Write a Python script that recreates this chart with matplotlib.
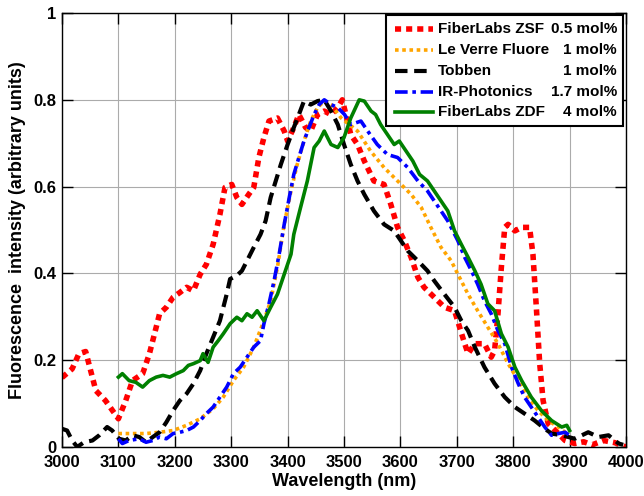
import matplotlib
matplotlib.use("Agg")
import matplotlib.pyplot as plt
from matplotlib.patches import Rectangle

plt.rcParams['font.family'] = ['Liberation Sans', 'DejaVu Sans']
plt.rcParams['font.weight'] = 'bold'

# ---- data ----
zsf_x = [3000, 3018, 3030, 3042, 3048, 3060, 3077, 3089, 3100, 3113, 3125, 3143, 3155, 3167, 3173, 3185,
         3197, 3209, 3221, 3233, 3245, 3256, 3268, 3280, 3289, 3301, 3310, 3319, 3331, 3340, 3349, 3358,
         3367, 3382, 3394, 3400, 3411, 3420, 3432, 3441, 3453, 3465, 3477, 3489, 3497, 3512, 3524, 3536,
         3553, 3571, 3583, 3595, 3607, 3619, 3631, 3642, 3660, 3678, 3696, 3705, 3714, 3720, 3732, 3749,
         3761, 3767, 3773, 3779, 3785, 3791, 3803, 3815, 3829, 3835, 3841, 3847, 3853, 3862, 3880, 3892,
         3909, 3925, 3940, 3960, 3980, 4000]
zsf_y = [0.16, 0.18, 0.215, 0.22, 0.19, 0.13, 0.107, 0.085, 0.065, 0.107, 0.153, 0.169, 0.215, 0.276, 0.307, 0.322,
         0.345, 0.356, 0.368, 0.36, 0.398, 0.421, 0.467, 0.536, 0.598, 0.605, 0.575, 0.559, 0.582, 0.598, 0.667, 0.713,
         0.751, 0.758, 0.728, 0.705, 0.736, 0.766, 0.736, 0.728, 0.766, 0.774, 0.766, 0.782, 0.80, 0.72, 0.697, 0.659,
         0.613, 0.605, 0.559, 0.506, 0.475, 0.437, 0.391, 0.368, 0.345, 0.322, 0.314, 0.276, 0.238, 0.215, 0.238, 0.238,
         0.207, 0.222, 0.307, 0.414, 0.506, 0.513, 0.498, 0.506, 0.506, 0.444, 0.322, 0.192, 0.107, 0.054, 0.031, 0.015,
         0.008, 0.012, 0.005, 0.015, 0.01, 0.0]

lvf_x = [3100, 3125, 3149, 3173, 3197, 3221, 3245, 3268, 3286, 3304, 3322, 3340, 3358, 3370, 3382, 3394,
         3406, 3417, 3429, 3441, 3453, 3465, 3477, 3495, 3524, 3547, 3571, 3595, 3619, 3637, 3654, 3672,
         3690, 3702, 3720, 3737, 3755, 3773, 3791, 3809, 3826, 3844, 3862, 3880, 3892]
lvf_y = [0.031, 0.031, 0.031, 0.034, 0.038, 0.05, 0.065, 0.088, 0.115, 0.153, 0.184, 0.23, 0.291, 0.337, 0.414, 0.513,
         0.59, 0.651, 0.705, 0.751, 0.782, 0.797, 0.789, 0.758, 0.728, 0.682, 0.644, 0.613, 0.582, 0.552, 0.506, 0.46,
         0.429, 0.398, 0.352, 0.314, 0.276, 0.238, 0.192, 0.153, 0.115, 0.084, 0.061, 0.046, 0.034]

tob_x = [3000, 3009, 3018, 3027, 3039, 3054, 3066, 3080, 3089, 3101, 3113, 3125, 3137, 3149, 3161, 3173,
         3185, 3197, 3209, 3221, 3233, 3245, 3256, 3268, 3280, 3292, 3298, 3310, 3319, 3328, 3340, 3352,
         3361, 3370, 3379, 3388, 3400, 3411, 3420, 3429, 3441, 3453, 3465, 3477, 3489, 3500, 3512, 3524,
         3536, 3553, 3571, 3589, 3601, 3613, 3631, 3648, 3660, 3678, 3696, 3708, 3720, 3732, 3749, 3767,
         3785, 3803, 3820, 3838, 3856, 3868, 3886, 3898, 3909, 3933, 3951, 3969, 3987, 3995]
tob_y = [0.042, 0.038, 0.015, 0.0, 0.011, 0.015, 0.027, 0.046, 0.038, 0.019, 0.015, 0.027, 0.023, 0.011, 0.023, 0.034,
         0.057, 0.084, 0.107, 0.123, 0.146, 0.176, 0.215, 0.253, 0.291, 0.352, 0.387, 0.395, 0.406, 0.429, 0.46, 0.49,
         0.521, 0.575, 0.613, 0.651, 0.697, 0.736, 0.766, 0.797, 0.789, 0.797, 0.80, 0.774, 0.743, 0.697, 0.651, 0.613,
         0.582, 0.544, 0.513, 0.498, 0.475, 0.452, 0.429, 0.406, 0.383, 0.352, 0.322, 0.291, 0.268, 0.23, 0.184, 0.146,
         0.115, 0.092, 0.077, 0.061, 0.042, 0.031, 0.027, 0.023, 0.019, 0.034, 0.023, 0.027, 0.008, 0.005]

irp_x = [3100, 3107, 3119, 3137, 3149, 3161, 3173, 3185, 3197, 3209, 3221, 3233, 3245, 3256, 3268, 3280,
         3292, 3304, 3316, 3328, 3340, 3352, 3358, 3367, 3376, 3385, 3394, 3403, 3411, 3420, 3429, 3438,
         3447, 3456, 3465, 3477, 3489, 3501, 3512, 3530, 3542, 3559, 3577, 3595, 3613, 3631, 3648, 3660,
         3672, 3684, 3702, 3714, 3726, 3737, 3749, 3761, 3773, 3785, 3797, 3809, 3820, 3832, 3844, 3856,
         3868, 3880, 3892, 3900]
irp_y = [0.019, 0.008, 0.015, 0.019, 0.011, 0.015, 0.023, 0.019, 0.031, 0.034, 0.038, 0.046, 0.061, 0.077, 0.092, 0.115,
         0.138, 0.169, 0.184, 0.207, 0.23, 0.245, 0.284, 0.33, 0.383, 0.444, 0.513, 0.575, 0.628, 0.667, 0.705, 0.736,
         0.766, 0.789, 0.80, 0.789, 0.782, 0.766, 0.743, 0.751, 0.728, 0.697, 0.674, 0.667, 0.644, 0.613, 0.59, 0.567,
         0.544, 0.521, 0.475, 0.437, 0.406, 0.375, 0.337, 0.307, 0.268, 0.238, 0.184, 0.146, 0.115, 0.092, 0.069, 0.046,
         0.027, 0.031, 0.034, 0.027]

zdf_x = [3100, 3107, 3119, 3131, 3143, 3155, 3167, 3179, 3191, 3203, 3215, 3224, 3233, 3245, 3250, 3259,
         3268, 3277, 3286, 3298, 3310, 3319, 3328, 3337, 3346, 3358, 3370, 3382, 3394, 3406, 3411, 3423,
         3435, 3447, 3456, 3465, 3477, 3489, 3500, 3512, 3527, 3536, 3548, 3556, 3565, 3577, 3589, 3598,
         3610, 3622, 3634, 3648, 3660, 3672, 3684, 3696, 3708, 3720, 3732, 3743, 3755, 3767, 3779, 3791,
         3803, 3815, 3832, 3850, 3868, 3886, 3895, 3900]
zdf_y = [0.161, 0.169, 0.153, 0.149, 0.138, 0.153, 0.161, 0.165, 0.161, 0.169, 0.176, 0.188, 0.192, 0.199, 0.215, 0.195,
         0.23, 0.245, 0.261, 0.284, 0.299, 0.291, 0.307, 0.299, 0.314, 0.291, 0.322, 0.352, 0.398, 0.444, 0.49, 0.552,
         0.613, 0.69, 0.705, 0.728, 0.697, 0.69, 0.713, 0.758, 0.80, 0.797, 0.774, 0.766, 0.743, 0.72, 0.697, 0.705,
         0.682, 0.659, 0.628, 0.613, 0.59, 0.567, 0.544, 0.498, 0.467, 0.437, 0.406, 0.375, 0.33, 0.314, 0.261, 0.23,
         0.184, 0.153, 0.115, 0.084, 0.061, 0.046, 0.05, 0.038]

names = ["FiberLabs ZSF", "Le Verre Fluore", "Tobben", "IR-Photonics", "FiberLabs ZDF"]
mols = ["0.5 mol%", "1 mol%", "1 mol%", "1.7 mol%", "4 mol%"]
x_ticks = [3000, 3100, 3200, 3300, 3400, 3500, 3600, 3700, 3800, 3900, 4000]
y_ticks = [0, 0.2, 0.4, 0.6, 0.8, 1]
y_ticklabels = ["0", "0.2", "0.4", "0.6", "0.8", "1"]

# ---- plot ----
fig = plt.figure(figsize=(6.44, 4.96), dpi=100)
AX_L, AX_R, AX_T, AX_B = 62, 626, 13, 447
ax = fig.add_axes([AX_L/644, 1-AX_B/496, (AX_R-AX_L)/644, (AX_B-AX_T)/496])

def fx(px):
    return (px - AX_L) / (AX_R - AX_L)

def fy(py):
    return (AX_B - py) / (AX_B - AX_T)

series = [(zsf_x, zsf_y), (lvf_x, lvf_y), (tob_x, tob_y), (irp_x, irp_y), (zdf_x, zdf_y)]
styles = [
    dict(color='#ff0000', lw=4.0, linestyle=(0, (1.1, 0.9)), dash_capstyle='butt'),
    dict(color='#ffa500', lw=2.6, linestyle=(0, (1.0, 1.0)), dash_capstyle='butt'),
    dict(color='#000000', lw=3.0, linestyle=(0, (3.0, 1.6)), dash_capstyle='butt'),
    dict(color='#0000ff', lw=2.6, linestyle=(0, (3.5, 1.3, 1.0, 1.3)), dash_capstyle='butt'),
    dict(color='#008000', lw=2.6, linestyle='-'),
]
for (xs, ys), st in zip(series, styles):
    ax.plot(xs, ys, **st)

ax.set_xlim(3000, 4000)
ax.set_ylim(0, 1)
ax.set_xticks(x_ticks)
ax.set_yticks(y_ticks)
ax.set_yticklabels(y_ticklabels)
ax.grid(True, color='#ababab', lw=0.8, linestyle='-')
ax.set_axisbelow(True)
ax.tick_params(direction='in', top=True, right=True, length=8, width=1, labelsize=12)
ax.tick_params(axis='x', pad=6)
ax.tick_params(axis='y', pad=4)
for lab in ax.get_xticklabels() + ax.get_yticklabels():
    lab.set_fontweight('bold')
for sp in ax.spines.values():
    sp.set_linewidth(1.0)
ax.set_xlabel("Wavelength (nm)", fontsize=13, fontweight='bold', labelpad=2)
ax.set_ylabel("Fluorescence  intensity (arbitrary units)", fontsize=13, fontweight='bold', labelpad=5)

# ---- manual legend (two-part labels with right-aligned mol%) ----
LEG_L, LEG_R, LEG_T, LEG_B = 386, 623, 15, 126
ax.add_patch(Rectangle((fx(LEG_L), fy(LEG_B)), fx(LEG_R) - fx(LEG_L), fy(LEG_T) - fy(LEG_B),
                       transform=ax.transAxes, facecolor='white', edgecolor='black', lw=1.5,
                       clip_on=False, zorder=5))
row_y = [29, 50, 71, 91.5, 111.5]
for st, nm, ml, ry in zip(styles, names, mols, row_y):
    ax.plot([fx(395), fx(433)], [fy(ry), fy(ry)], transform=ax.transAxes, clip_on=False, zorder=6, **st)
    ax.text(fx(438), fy(ry), nm, transform=ax.transAxes, ha='left', va='center',
            fontsize=11, fontweight='bold', zorder=7)
    ax.text(fx(617), fy(ry), ml, transform=ax.transAxes, ha='right', va='center',
            fontsize=11, fontweight='bold', zorder=7)

fig.savefig("out.png", dpi=100)
